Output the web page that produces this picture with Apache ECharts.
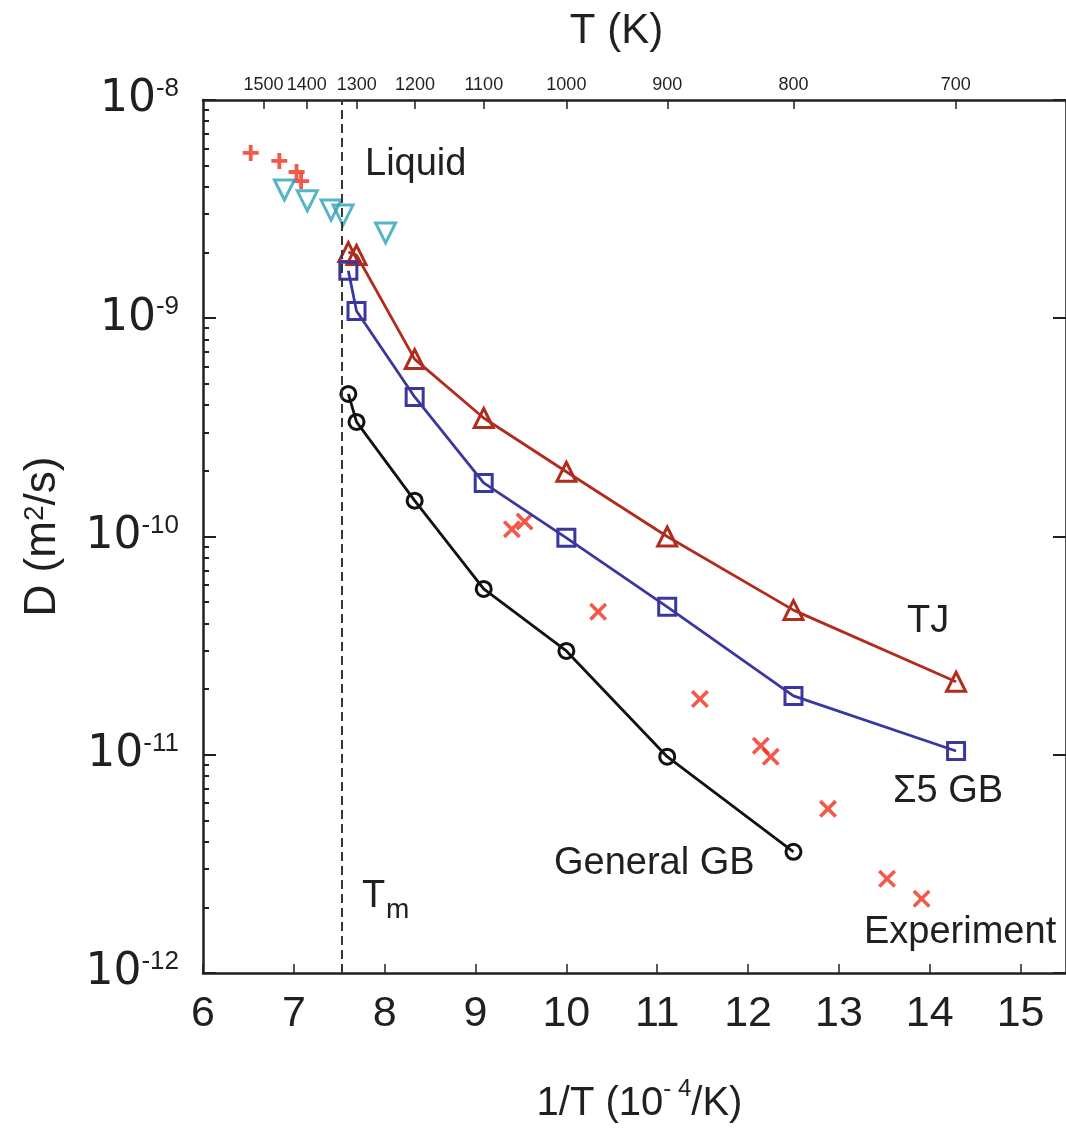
<!DOCTYPE html>
<html><head><meta charset="utf-8">
<script src="https://cdn.jsdelivr.net/npm/echarts@6/dist/echarts.min.js"></script>
<style>html,body{margin:0;padding:0;background:#fff}#c{width:1066px;height:1131px}</style>
</head><body><div id="c"></div>
<script>
// ---- data (x = 1/T in 10^-4 /K, y = D in m^2/s) ----
const simX   = [7.60, 7.69, 8.33, 9.09, 10.0, 11.11, 12.5, 14.29];
const tjD    = [2.01e-9, 1.95e-9, 6.5e-10, 3.49e-10, 1.98e-10, 1.0e-10, 4.6e-11, 2.16e-11];
const s5D    = [1.65e-9, 1.08e-9, 4.36e-10, 1.76e-10, 9.86e-11, 4.76e-11, 1.86e-11, 1.04e-11];
const genX   = [7.60, 7.69, 8.33, 9.09, 10.0, 11.11, 12.5];
const genD   = [4.5e-10, 3.35e-10, 1.46e-10, 5.75e-11, 2.99e-11, 9.8e-12, 3.59e-12];
const expX   = [9.40, 9.54, 10.35, 11.47, 12.14, 12.25, 12.88, 13.53, 13.91];
const expD   = [1.08e-10, 1.17e-10, 4.52e-11, 1.80e-11, 1.10e-11, 9.8e-12, 5.65e-12, 2.7e-12, 2.19e-12];
const liqExpX = [6.525, 6.84, 7.03, 7.08];
const liqExpD = [5.72e-9, 5.26e-9, 4.68e-9, 4.25e-9];
const liqSimX = [6.896, 7.148, 7.41, 7.541, 8.01];
const liqSimD = [3.87e-9, 3.45e-9, 3.13e-9, 2.97e-9, 2.46e-9];
const meltX  = 7.53;
const bottomTicks = [6, 7, 8, 9, 10, 11, 12, 13, 14, 15];
const topTempTicks = [1500, 1400, 1300, 1200, 1100, 1000, 900, 800, 700];

// ---- helpers ----
const pair = (xs, ys) => xs.map((x, i) => [x, ys[i]]);
const topTickPos = topTempTicks.map(t => 10000 / t);
const minorLog = [];
for (let d = -12; d < -8; d++) for (let k = 2; k <= 9; k++) minorLog.push(d + Math.log10(k));

const sans = "'Liberation Sans', Arial, sans-serif";
const wide = "'DejaVu Sans', 'Liberation Sans', sans-serif";
const axisCol = '#231f20';

const cTJ = '#b22c1e', cS5 = '#3b37a0', cExp = '#f0301c', cCy = '#2ba3b8';

const xPath = 'path://M0,14 L14,0 L50,36 L86,0 L100,14 L64,50 L100,86 L86,100 L50,64 L14,100 L0,86 L36,50 Z';
const plusPath = 'path://M38,0 H62 V38 H100 V62 H62 V100 H38 V62 H0 V38 H38 Z';

const chart = echarts.init(document.getElementById('c'), null, {renderer: 'canvas'});
const option = {
  backgroundColor: '#fff',
  animation: false,
  grid: {left: 203, top: 100, right: -7, bottom: 158, containLabel: false},
  xAxis: [
    {
      type: 'value', position: 'bottom', min: 6, max: 15.5,
      axisLine: {lineStyle: {color: axisCol, width: 2.5}},
      axisTick: {inside: true, length: 9, lineStyle: {color: axisCol, width: 1.5}, customValues: bottomTicks},
      axisLabel: {customValues: bottomTicks, margin: 20, fontFamily: sans, fontSize: 43, color: axisCol},
      splitLine: {show: false},
      name: '1/T (10{s|- 4}/K)', nameLocation: 'middle', nameGap: 104,
      nameTextStyle: {fontFamily: sans, fontSize: 40, color: axisCol, padding: [0, 0, 0, 10],
        rich: {s: {fontFamily: sans, fontSize: 24, color: axisCol, verticalAlign: 'bottom', padding: [0, 0, 30, 0]}}}
    },
    {
      type: 'value', position: 'top', min: 6, max: 15.5,
      axisLine: {lineStyle: {color: axisCol, width: 2.5}},
      axisTick: {inside: true, length: 9, lineStyle: {color: axisCol, width: 1.5}, customValues: topTickPos},
      axisLabel: {customValues: topTickPos, margin: 6, fontFamily: sans, fontSize: 18, color: axisCol,
        hideOverlap: false, showMinLabel: true, showMaxLabel: true,
        formatter: v => String(Math.round(10000 / v / 100) * 100)},
      splitLine: {show: false},
      name: 'T (K)', nameLocation: 'middle', nameGap: 48,
      nameTextStyle: {fontFamily: sans, fontSize: 42, color: axisCol, padding: [0, 36, 0, 0]}
    }
  ],
  yAxis: [
    {
      type: 'log', logBase: 10, min: 1e-12, max: 1e-8, position: 'left',
      axisLine: {lineStyle: {color: axisCol, width: 2.5}},
      axisTick: {inside: true, length: 13, lineStyle: {color: axisCol, width: 2}},
      axisLabel: {margin: 24, color: axisCol,
        formatter: v => '{b|10}{s|' + Math.round(Math.log10(v)) + '}',
        rich: {b: {fontFamily: wide, fontSize: 44, color: axisCol},
               s: {fontFamily: sans, fontSize: 26, color: axisCol, verticalAlign: 'bottom', padding: [0, 0, 22, 0]}}},
      splitLine: {show: false},
      name: 'D (m{s|2}/s)', nameLocation: 'middle', nameGap: 138, nameRotate: 90,
      nameTextStyle: {fontFamily: sans, fontSize: 44, color: axisCol,
        rich: {s: {fontFamily: sans, fontSize: 28, color: axisCol, verticalAlign: 'bottom', padding: [0, 0, 16, 0]}}}
    },
    {
      type: 'value', min: -12, max: -8, position: 'left',
      axisLine: {show: false},
      axisTick: {inside: true, length: 6, lineStyle: {color: axisCol, width: 2}, customValues: minorLog},
      axisLabel: {show: false}, splitLine: {show: false}
    },
    {
      type: 'log', logBase: 10, min: 1e-12, max: 1e-8, position: 'right',
      axisLine: {lineStyle: {color: axisCol, width: 2.5}},
      axisTick: {inside: true, length: 13, lineStyle: {color: axisCol, width: 2}},
      axisLabel: {show: false}, splitLine: {show: false}
    }
  ],
  series: [
    {
      type: 'line', name: 'TJ', data: pair(simX, tjD),
      symbol: 'triangle', symbolSize: 19,
      lineStyle: {color: cTJ, width: 2.8},
      itemStyle: {color: 'rgba(0,0,0,0)', borderColor: cTJ, borderWidth: 3},
      markLine: {
        silent: true, symbol: 'none', label: {show: false},
        lineStyle: {color: '#3d3331', type: [9, 5], width: 2},
        data: [{xAxis: meltX}]
      }
    },
    {
      type: 'line', name: 'S5', data: pair(simX, s5D),
      symbol: 'rect', symbolSize: 17,
      lineStyle: {color: cS5, width: 2.8},
      itemStyle: {color: 'rgba(0,0,0,0)', borderColor: cS5, borderWidth: 3}
    },
    {
      type: 'line', name: 'Gen', data: pair(genX, genD),
      symbol: 'circle', symbolSize: 15,
      lineStyle: {color: '#111', width: 2.8},
      itemStyle: {color: 'rgba(0,0,0,0)', borderColor: '#111', borderWidth: 3}
    },
    {
      type: 'scatter', name: 'Exp', data: pair(expX, expD),
      symbol: xPath, symbolSize: 18, itemStyle: {color: cExp}
    },
    {
      type: 'scatter', name: 'LiqExp', data: pair(liqExpX, liqExpD),
      symbol: plusPath, symbolSize: 16, itemStyle: {color: cExp}
    },
    {
      type: 'scatter', name: 'LiqSim', data: pair(liqSimX, liqSimD),
      symbol: 'triangle', symbolRotate: 180, symbolSize: 20,
      itemStyle: {color: 'rgba(0,0,0,0)', borderColor: cCy, borderWidth: 3}
    }
  ],
  graphic: [
    {type: 'text', left: 365, top: 146, style: {text: 'Liquid', font: '38px ' + sans, fill: axisCol}},
    {type: 'text', left: 907, top: 603, style: {text: 'TJ', font: '38px ' + sans, fill: axisCol}},
    {type: 'text', left: 893, top: 773, style: {text: 'Σ5 GB', font: '38px ' + sans, fill: axisCol}},
    {type: 'text', left: 554, top: 845, style: {text: 'General GB', font: '38px ' + sans, fill: axisCol}},
    {type: 'text', left: 864, top: 914, style: {text: 'Experiment', font: '38px ' + sans, fill: axisCol}},
    {type: 'text', left: 362, top: 878, style: {text: 'T', font: '38px ' + sans, fill: axisCol}},
    {type: 'text', left: 386, top: 896, style: {text: 'm', font: '28px ' + sans, fill: axisCol}}
  ]
};
chart.setOption(option);
</script></body></html>
